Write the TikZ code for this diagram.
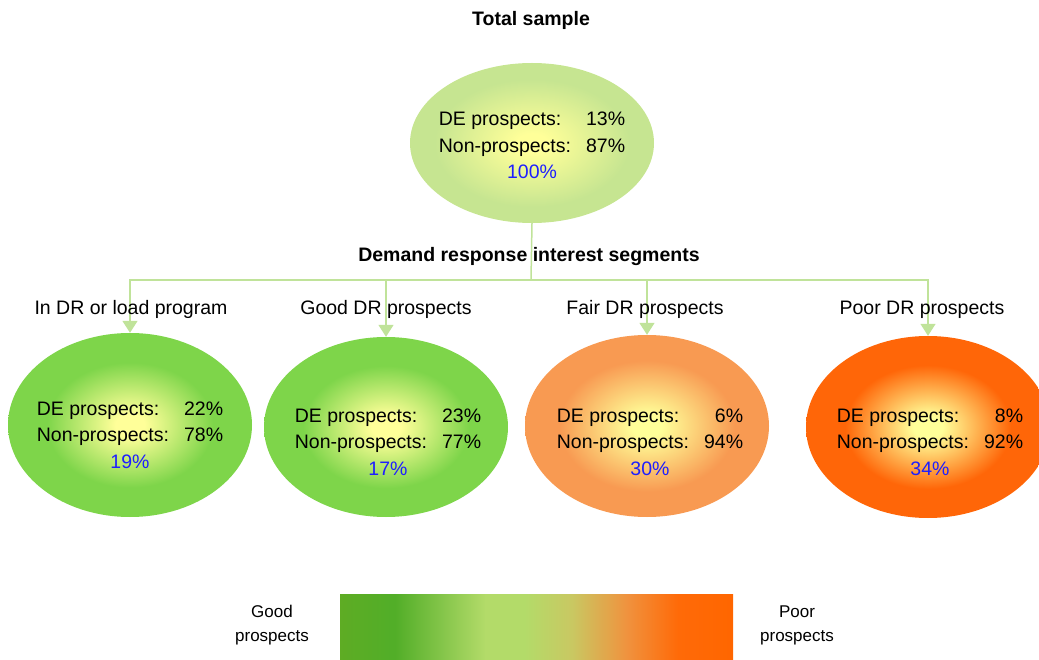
\documentclass[tikz,border=0pt]{standalone}
\usepackage{fontspec}
\setmainfont{Liberation Sans}
\usetikzlibrary{shapes.geometric,arrows.meta}
\definecolor{cy}{HTML}{FFFF99}
\definecolor{ctop}{HTML}{C6E591}
\definecolor{cgreen}{HTML}{7ED54A}
\definecolor{cfair}{HTML}{F89A52}
\definecolor{cpoor}{HTML}{FF6608}
\definecolor{cline}{HTML}{C0E39A}
\definecolor{cblue}{HTML}{1E1EFF}
\definecolor{b1}{HTML}{5EAC24}
\definecolor{b2}{HTML}{52AE28}
\definecolor{b3}{HTML}{B3DB69}
\definecolor{b4}{HTML}{C9C862}
\definecolor{b5}{HTML}{F0923E}
\definecolor{b6}{HTML}{FF6A08}
\definecolor{b7}{HTML}{FF6600}
\pgfdeclareradialshading{shtop}{\pgfpoint{0bp}{0bp}}{color(0bp)=(cy); color(3bp)=(cy); color(20bp)=(ctop); color(50bp)=(ctop)}
\pgfdeclareradialshading{shgreen}{\pgfpoint{0bp}{0bp}}{color(0bp)=(cy); color(3bp)=(cy); color(17bp)=(cgreen); color(50bp)=(cgreen)}
\pgfdeclareradialshading{shfair}{\pgfpoint{0bp}{0bp}}{color(0bp)=(cy); color(3bp)=(cy); color(18bp)=(cfair); color(50bp)=(cfair)}
\pgfdeclareradialshading{shpoor}{\pgfpoint{0bp}{0bp}}{color(0bp)=(cy); color(3bp)=(cy); color(17bp)=(cpoor); color(50bp)=(cpoor)}
\pgfdeclarehorizontalshading{shbar}{100bp}{color(0bp)=(b1); color(25bp)=(b1); color(31.5bp)=(b2); color(32bp)=(b2); color(43.5bp)=(b3); color(48.5bp)=(b3); color(54.5bp)=(b4); color(61.5bp)=(b5); color(68bp)=(b6); color(75bp)=(b7); color(100bp)=(b7)}
\newcommand{\stat}[5]{\begin{tabular}[t]{@{}l@{\hspace{15pt}}r@{}}#1&#2\\#3&#4\\\multicolumn{2}{c}{\color{cblue}#5}\end{tabular}}
\begin{document}
\begin{tikzpicture}[x=1pt,y=-1pt,
  ell/.style={ellipse, minimum width=244pt, inner sep=0pt},
  stats/.style={font=\fontsize{19.5}{26.5}\selectfont, inner sep=0pt, anchor=base},
  hdr/.style={font=\fontsize{19.5}{24}\selectfont\bfseries, inner sep=0pt, anchor=base},
  seglbl/.style={font=\fontsize{19.5}{24}\selectfont, inner sep=0pt, anchor=base},
  leg/.style={font=\fontsize{17}{24}\selectfont, inner sep=0pt, align=center},
  conn/.style={draw=cline, line width=1.5pt},
  arr/.style={conn, -{Triangle[width=15pt,length=12pt,fill=cline,color=cline]}}]
\useasboundingbox (0,0) rectangle (1039,660);
% ellipses
\node[ell, minimum height=160pt, shading=shtop] (top) at (532,143) {};
\node[ell, minimum height=184pt, shading=shgreen] (e1) at (130,425) {};
\node[ell, minimum height=180pt, shading=shgreen] (e2) at (386,427) {};
\node[ell, minimum height=182pt, shading=shfair] (e3) at (647,426) {};
\node[ell, minimum height=182pt, shading=shpoor] (e4) at (928,427) {};
% headings
\node[hdr] (ts) at (531,26) {Total sample};
\node[hdr] (dr) at (529,262) {Demand response interest segments};
% connectors
\coordinate (hub) at (531,280);
\draw[conn] (top.south) -- (hub);
\draw[arr] (hub) -| (e1.north);
\draw[arr] (hub) -| (e2.north);
\draw[arr] (hub) -| (e3.north);
\draw[arr] (hub) -| (e4.north);
% segment labels
\node[seglbl] (l1) at (131,315) {In DR or load program};
\node[seglbl] (l2) at (386,315) {Good DR prospects};
\node[seglbl] (l3) at (645,315) {Fair DR prospects};
\node[seglbl] (l4) at (922,315) {Poor DR prospects};
% stats
\node[stats] (s0) at (532,126) {\stat{DE prospects:}{13\%}{Non-prospects:}{87\%}{100\%}};
\node[stats] (s1) at (130,415) {\stat{DE prospects:}{22\%}{Non-prospects:}{78\%}{19\%}};
\node[stats] (s2) at (388,422) {\stat{DE prospects:}{23\%}{Non-prospects:}{77\%}{17\%}};
\node[stats] (s3) at (650,422) {\stat{DE prospects:}{6\%}{Non-prospects:}{94\%}{30\%}};
\node[stats] (s4) at (930,422) {\stat{DE prospects:}{8\%}{Non-prospects:}{92\%}{34\%}};
% legend
\node[shading=shbar, minimum width=393pt, minimum height=66pt, inner sep=0pt] (bar) at (536.5,627) {};
\node[leg] (good) at (272,625) {Good\\prospects};
\node[leg] (poor) at (797,625) {Poor\\prospects};
\end{tikzpicture}
\end{document}
